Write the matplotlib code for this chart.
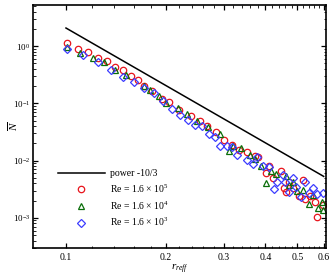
import matplotlib
matplotlib.use("Agg")
import matplotlib.pyplot as plt
from matplotlib.ticker import FixedLocator, NullFormatter, LogLocator, FixedFormatter

plt.rcParams['font.family'] = ['Liberation Serif', 'DejaVu Serif']
plt.rcParams['mathtext.fontset'] = 'custom'
plt.rcParams['mathtext.rm'] = 'Liberation Serif'
plt.rcParams['mathtext.it'] = 'Liberation Serif:italic'

# power law reference line endpoints
line_x = [0.1, 0.6]
line_y = [2.06, 0.0053]

# Re = 1.6e5 (red circles)
x_re5 = [0.1005, 0.1089, 0.1168, 0.1252, 0.1327, 0.1406, 0.149, 0.157, 0.1647, 0.1725,
         0.1815, 0.1946, 0.2052, 0.2199, 0.238, 0.254, 0.266, 0.2845, 0.300, 0.317,
         0.332, 0.353, 0.372, 0.381, 0.401, 0.409, 0.421, 0.447, 0.454, 0.462,
         0.473, 0.486, 0.507, 0.519, 0.526, 0.546, 0.565, 0.572, 0.596]
y_re5 = [1.13, 0.90, 0.773, 0.617, 0.538, 0.430, 0.375, 0.295, 0.251, 0.203,
         0.166, 0.120, 0.104, 0.0773, 0.0608, 0.0483, 0.0395, 0.031, 0.0232, 0.0184,
         0.0155, 0.0139, 0.0122, 0.0114, 0.0061, 0.0082, 0.0050, 0.0067, 0.0033, 0.0028,
         0.0043, 0.0033, 0.0024, 0.0046, 0.0021, 0.0024, 0.0019, 0.00104, 0.00165]

# Re = 1.6e4 (green triangles)
x_re4 = [0.1005, 0.1102, 0.1204, 0.1305, 0.1406, 0.1518, 0.172, 0.1794, 0.1905, 0.2005,
         0.2185, 0.2315, 0.2493, 0.269, 0.2918, 0.311, 0.320, 0.337, 0.360, 0.372,
         0.388, 0.401, 0.415, 0.431, 0.462, 0.470, 0.486, 0.498, 0.519, 0.540,
         0.559, 0.578, 0.592, 0.597]
y_re4 = [0.98, 0.755, 0.617, 0.518, 0.386, 0.316, 0.197, 0.168, 0.132, 0.101,
         0.0815, 0.0659, 0.0483, 0.0380, 0.0286, 0.0145, 0.0177, 0.0168, 0.0127, 0.0107,
         0.0079, 0.0041, 0.0065, 0.0059, 0.0053, 0.0038, 0.0043, 0.0029, 0.0031, 0.00177,
         0.0025, 0.00149, 0.0019, 0.00139]

# Re = 1.6e3 (blue diamonds)
x_re3 = [0.1005, 0.1128, 0.1247, 0.1365, 0.1483, 0.1605, 0.1725, 0.1849, 0.1968, 0.2094,
         0.2208, 0.233, 0.2453, 0.257, 0.271, 0.282, 0.292, 0.306, 0.318, 0.329,
         0.3515, 0.3665, 0.378, 0.3945, 0.411, 0.425, 0.435, 0.452, 0.460, 0.473,
         0.486, 0.496, 0.513, 0.527, 0.540, 0.556, 0.574, 0.596]
y_re3 = [0.897, 0.685, 0.532, 0.386, 0.288, 0.232, 0.185, 0.151, 0.108, 0.0796,
         0.0632, 0.0518, 0.0423, 0.0395, 0.0291, 0.0254, 0.0177, 0.0177, 0.0170, 0.0123,
         0.0104, 0.0087, 0.0116, 0.0081, 0.0076, 0.0032, 0.0043, 0.0057, 0.0043, 0.0028,
         0.0050, 0.0035, 0.0023, 0.0042, 0.0027, 0.0033, 0.0026, 0.0027]

x_major = [0.1, 0.2, 0.3, 0.4, 0.5, 0.6]
x_major_labels = ['0.1', '0.2', '0.3', '0.4', '0.5', '0.6']
x_minor = [0.12, 0.14, 0.16, 0.18, 0.22, 0.24, 0.26, 0.28, 0.32, 0.34, 0.36, 0.38,
           0.42, 0.44, 0.46, 0.48, 0.52, 0.54, 0.56, 0.58]

fig = plt.figure(figsize=(3.31, 2.77), dpi=100)
ax = fig.add_axes([0.0997, 0.1047, 0.8853, 0.8773])

ax.plot(line_x, line_y, color='black', lw=1.1, label='power -10/3')
ms = 4.6
ax.plot(x_re5, y_re5, ls='none', marker='o', ms=ms, mfc='none', mec='#e8141c', mew=0.9,
        label=r'Re = 1.6 $\times$ 10$^5$')
ax.plot(x_re4, y_re4, ls='none', marker='^', ms=ms, mfc='none', mec='#0a6e0a', mew=0.9,
        label=r'Re = 1.6 $\times$ 10$^4$')
ax.plot(x_re3, y_re3, ls='none', marker='D', ms=ms * 0.85, mfc='none', mec='#3c3cff', mew=0.9,
        label=r'Re = 1.6 $\times$ 10$^3$')

ax.set_xscale('log')
ax.set_yscale('log')
ax.set_xlim(0.0795, 0.61)
ax.set_ylim(2.98e-4, 5.2)

ax.xaxis.set_major_locator(FixedLocator(x_major))
ax.xaxis.set_major_formatter(FixedFormatter(x_major_labels))
ax.xaxis.set_minor_locator(FixedLocator(x_minor))
ax.xaxis.set_minor_formatter(NullFormatter())
ax.yaxis.set_major_locator(LogLocator(base=10, numticks=10))
ax.yaxis.set_minor_locator(LogLocator(base=10, subs=range(2, 10), numticks=20))
ax.yaxis.set_minor_formatter(NullFormatter())

ax.tick_params(which='both', direction='in', top=True, right=True)
ax.tick_params(axis='x', labelsize=7)
ax.tick_params(axis='y', labelsize=6.5, pad=2)
ax.tick_params(which='major', length=3.5, width=0.9)
ax.tick_params(which='minor', length=1.8, width=0.6)
for s in ax.spines.values():
    s.set_linewidth(1.2)

ax.set_xlabel(r'$r_{reff}$', fontsize=8, labelpad=1)
ax.set_ylabel(r'$\overline{N}$', fontsize=8)
ax.yaxis.set_label_coords(-0.045, 0.5)

leg = ax.legend(loc='lower left', bbox_to_anchor=(0.055, 0.045), frameon=False, fontsize=7,
                handlelength=4.8, handletextpad=0.6, labelspacing=0.45)

fig.savefig('out.png', dpi=100)
